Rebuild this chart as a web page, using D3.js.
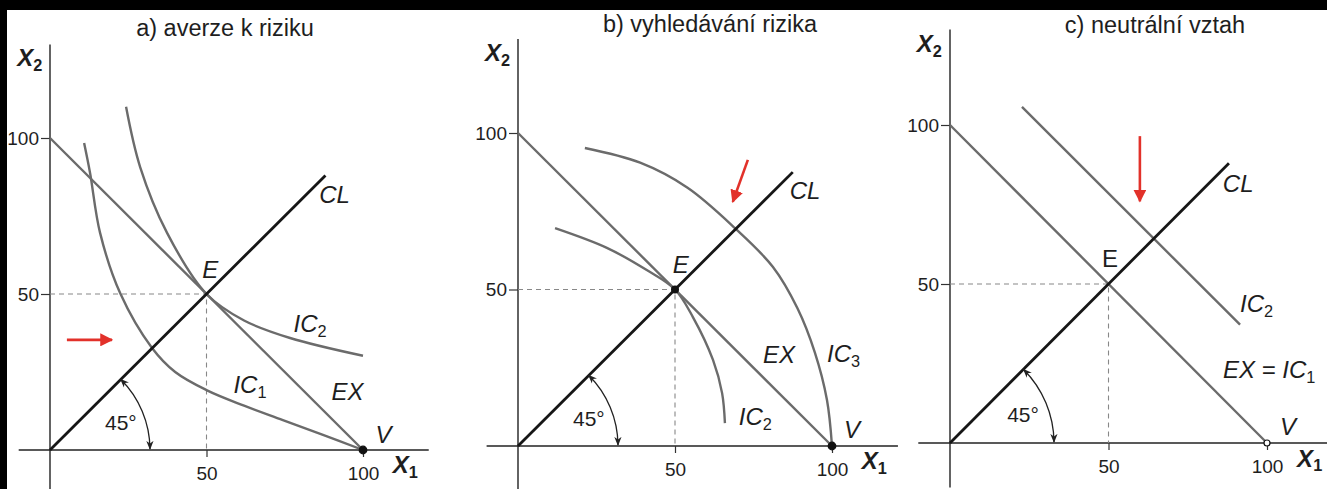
<!DOCTYPE html>
<html>
<head>
<meta charset="utf-8">
<script src="https://cdn.jsdelivr.net/npm/d3@7"></script>
<style>
body{margin:0;background:#000;}
svg{display:block;}
text{font-family:"Liberation Sans",Arial,sans-serif;fill:#1e1e1e;}
</style>
</head>
<body>
<svg id="chart" width="1327" height="489"></svg>
<script>
// Data
const tickValues = [50, 100];
const panelTitles = ['a) averze k riziku', 'b) vyhledávání rizika', 'c) neutrální vztah'];
const expectedLine = [[0, 100], [100, 0]];          // EX
const certaintyEnd = [88, 87.5, 88];                // CL runs from 0 to this
const equalPoint = [50, 50];                        // E
const endowPoint = [100, 0];                        // V
// a) aversion
const aversionIC1 = [[10.9, 98.4], [12.8, 88.8], [16, 69.6], [22.4, 50.3], [32.6, 32.7], [40, 25], [50, 19.2], [62, 14.2], [74.4, 9.6], [87, 4.9], [100, 0]];
const aversionIC2 = [[24.3, 110], [28.8, 90.7], [37.4, 69.6], [50, 50], [62, 41.5], [76.7, 35.9], [100, 30.2]];
// b) seeking
const seekingIC2 = [[11.8, 69.6], [28.3, 63.3], [41, 56.2], [50, 50], [55.7, 41.2], [62.1, 27.5], [65, 16.9], [65.9, 7.3]];
const seekingIC3 = [[21.3, 95.2], [38.9, 90.5], [54, 82.5], [69.1, 69.6], [81.2, 57.2], [89, 44], [94.5, 30], [98.4, 14.7], [100, 0]];
// c) neutral
const neutralIC2 = [[22.7, 105.7], [91.5, 37.2]];

// Layout
const panels = [
  {ox: 50, oy: 450, sx: 3.13, sy: 3.12, arcR: 100, titleX: 225, titleY: 36, eDot: false, vOpen: false,
   curves: [aversionIC1, aversionIC2],
   arrow: [[5.4, 35.3], [19.8, 35.3]],
   labels: [
     {t: 'E', at: [51.2, 55.1], anchor: 'middle'},
     {t: 'CL', at: [90.9, 79.2], anchor: 'middle'},
     {t: 'IC', sub: '2', at: [77.8, 37.8]},
     {t: 'IC', sub: '1', at: [58.6, 18.3]},
     {t: 'EX', at: [89.9, 16]},
     {t: 'V', at: [104, 2.2]}]},
  {ox: 518, oy: 446, sx: 3.14, sy: 3.13, arcR: 100, titleX: 710, titleY: 32, eDot: true, vOpen: false,
   curves: [seekingIC2, seekingIC3],
   arrow: [[73.2, 91.4], [68.4, 78]],
   labels: [
     {t: 'E', at: [51.8, 55.3], anchor: 'middle'},
     {t: 'CL', at: [91.4, 78.9], anchor: 'middle'},
     {t: 'EX', at: [78, 26.5]},
     {t: 'IC', sub: '3', at: [98.4, 26.8]},
     {t: 'IC', sub: '2', at: [70.3, 6.7]},
     {t: 'V', at: [103.8, 2.6]}]},
  {ox: 950, oy: 443, sx: 3.17, sy: 3.18, arcR: 104, titleX: 1155, titleY: 33, eDot: false, vOpen: true,
   curves: [neutralIC2],
   arrow: [[59.9, 96.5], [59.9, 76]],
   labels: [
     {t: 'E', at: [50.5, 55.5], anchor: 'middle', upright: true},
     {t: 'CL', at: [90.9, 78.9], anchor: 'middle'},
     {t: 'IC', sub: '2', at: [91.5, 41.3]},
     {t: 'EX = IC', sub: '1', at: [86.1, 20.5]},
     {t: 'V', at: [104.1, 2.5]}]}
];

const svg = d3.select('#chart');
svg.append('rect').attr('x', 7).attr('y', 10).attr('width', 1320).attr('height', 479).attr('fill', '#fff');

const defs = svg.append('defs');
defs.append('marker').attr('id', 'tip').attr('viewBox', '0 0 10 10').attr('refX', 9).attr('refY', 5)
  .attr('markerWidth', 9).attr('markerHeight', 9).attr('markerUnits', 'userSpaceOnUse')
  .attr('orient', 'auto-start-reverse')
  .append('path').attr('d', 'M0,1 L10,5 L0,9 L3,5 Z').attr('fill', '#222');
defs.append('marker').attr('id', 'red').attr('viewBox', '0 0 10 10').attr('refX', 9).attr('refY', 5)
  .attr('markerWidth', 13).attr('markerHeight', 13).attr('markerUnits', 'userSpaceOnUse')
  .attr('orient', 'auto')
  .append('path').attr('d', 'M0,0 L10,5 L0,10 Z').attr('fill', '#e2312a');

function addLabel(g, x, y, l, size) {
  const t = g.append('text').attr('x', x(l.at[0])).attr('y', y(l.at[1]))
    .attr('text-anchor', l.anchor || 'start').attr('font-size', size || 24)
    .attr('font-style', l.upright ? 'normal' : 'italic').text(l.t);
  if (l.sub) t.append('tspan').attr('font-size', '0.68em').attr('font-style', 'normal')
    .attr('dy', '0.3em').text(l.sub);
  return t;
}

function drawPanel(p, i) {
  const x = d3.scaleLinear().domain([0, 100]).range([p.ox, p.ox + 100 * p.sx]);
  const y = d3.scaleLinear().domain([0, 100]).range([p.oy, p.oy - 100 * p.sy]);
  const g = svg.append('g');

  // axes
  g.append('line').attr('x1', x(-10)).attr('x2', x(121)).attr('y1', y(0)).attr('y2', y(0))
    .attr('stroke', '#222').attr('stroke-width', 1.4);
  g.append('line').attr('x1', x(0)).attr('x2', x(0)).attr('y1', y(-14)).attr('y2', y(130))
    .attr('stroke', '#222').attr('stroke-width', 1.4);
  const yAxis = g.append('g').attr('transform', `translate(${x(0)},0)`)
    .call(d3.axisLeft(y).tickValues(tickValues).tickSize(9).tickPadding(2));
  const xAxis = g.append('g').attr('transform', `translate(0,${y(0)})`)
    .call(d3.axisBottom(x).tickValues(tickValues).tickSize(7).tickPadding(10));
  [yAxis, xAxis].forEach(a => {
    a.select('.domain').remove();
    a.selectAll('line').attr('stroke', '#333').attr('stroke-width', 1.2);
    a.selectAll('text').attr('fill', '#222').style('font-size', '19px')
      .style('font-family', '"Liberation Sans", Arial, sans-serif');
  });

  // guide lines to E
  g.append('path').attr('d', d3.line().x(d => x(d[0])).y(d => y(d[1]))([[0, equalPoint[1]], equalPoint, [equalPoint[0], 0]]))
    .attr('fill', 'none').attr('stroke', '#888').attr('stroke-width', 1.1).attr('stroke-dasharray', '5,4');

  const line = d3.line().x(d => x(d[0])).y(d => y(d[1])).curve(d3.curveCatmullRom.alpha(0.5));
  // EX
  g.append('path').attr('d', line(expectedLine)).attr('fill', 'none').attr('stroke', '#6b6b6b').attr('stroke-width', 2.4);
  // indifference curves
  p.curves.forEach(c => g.append('path').attr('d', line(c)).attr('fill', 'none')
    .attr('stroke', '#6b6b6b').attr('stroke-width', 2.4));
  // CL
  g.append('path').attr('d', line([[0, 0], [certaintyEnd[i], certaintyEnd[i]]])).attr('fill', 'none')
    .attr('stroke', '#161616').attr('stroke-width', 2.8);

  // 45 degree arc
  const r = p.arcR, c45 = r * Math.SQRT1_2;
  g.append('path').attr('d', `M${x(0) + c45},${y(0) - c45} A${r},${r} 0 0 1 ${x(0) + r},${y(0) - 1}`)
    .attr('fill', 'none').attr('stroke', '#222').attr('stroke-width', 1.3)
    .attr('marker-start', 'url(#tip)').attr('marker-end', 'url(#tip)');
  g.append('text').attr('x', x(0) + r * 0.55).attr('y', y(0) - r * 0.2).attr('font-size', 21).text('45°');

  // points
  if (p.eDot) g.append('circle').attr('cx', x(equalPoint[0])).attr('cy', y(equalPoint[1])).attr('r', 4).attr('fill', '#111');
  g.append('circle').attr('cx', x(endowPoint[0])).attr('cy', y(endowPoint[1])).attr('r', p.vOpen ? 3 : 3.8)
    .attr('fill', p.vOpen ? '#fff' : '#111').attr('stroke', '#111').attr('stroke-width', 1.2);

  // red arrow
  g.append('line').attr('x1', x(p.arrow[0][0])).attr('y1', y(p.arrow[0][1]))
    .attr('x2', x(p.arrow[1][0])).attr('y2', y(p.arrow[1][1]))
    .attr('stroke', '#e2312a').attr('stroke-width', 2.6).attr('marker-end', 'url(#red)');

  // labels
  p.labels.forEach(l => addLabel(g, x, y, l));
  addLabel(g, x, y, {t: 'X', sub: '2', at: [-10.5, 123]}, 24).attr('font-weight', 'bold');
  addLabel(g, x, y, {t: 'X', sub: '1', at: [109.5, -7.4]}, 24).attr('font-weight', 'bold');

  g.append('text').attr('x', p.titleX).attr('y', p.titleY).attr('text-anchor', 'middle')
    .attr('font-size', 23.5).text(panelTitles[i]);
}

panels.forEach(drawPanel);
</script>
</body>
</html>
